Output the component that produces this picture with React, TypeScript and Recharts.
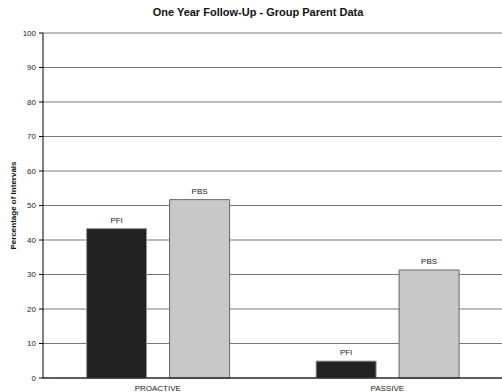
import { Bar, BarChart, CartesianGrid, LabelList, XAxis, YAxis } from "recharts";

const groups = ["PROACTIVE", "PASSIVE"];
const pfiValues = [43.3, 4.9];
const pbsValues = [51.7, 31.3];
const yTicks = [0, 10, 20, 30, 40, 50, 60, 70, 80, 90, 100];

const data = groups.map((group, i) => ({
  group,
  PFI: pfiValues[i],
  PBS: pbsValues[i],
}));

const font = "'Liberation Sans', Arial, sans-serif";

export default function App() {
  return (
    <div style={{ position: "absolute", left: 0, top: 0, width: 502, height: 392, background: "#fff", fontFamily: font }}>
      <div
        style={{
          position: "absolute",
          top: 6,
          left: 0,
          width: 516,
          textAlign: "center",
          fontSize: 11,
          fontWeight: "bold",
          color: "#111",
        }}
      >
        One Year Follow-Up - Group Parent Data
      </div>
      <BarChart
        width={502}
        height={392}
        data={data}
        margin={{ top: 33, right: 0, bottom: 0, left: 0 }}
        barCategoryGap="19%"
        barGap={23}
      >
        <CartesianGrid vertical={false} stroke="#777" strokeOpacity={1} />
        <XAxis
          dataKey="group"
          height={14}
          tickLine={false}
          axisLine={{ stroke: "#000" }}
          tick={{ fontSize: 8, fill: "#222", fontFamily: font }}
          tickMargin={1}
        />
        <YAxis
          width={43}
          domain={[0, 100]}
          ticks={yTicks}
          interval={0}
          tickSize={4}
          tickLine={{ stroke: "#000" }}
          axisLine={{ stroke: "#000" }}
          tick={{ fontSize: 8, fill: "#222", fontFamily: font }}
          tickMargin={3}
          label={{
            value: "Percentage of Intervals",
            angle: -90,
            position: "insideLeft",
            offset: 13,
            style: { fontSize: 8, fontWeight: "bold", fill: "#111", fontFamily: font, textAnchor: "middle" },
          }}
        />
        <Bar dataKey="PFI" fill="#222" stroke="#999" strokeWidth={1} isAnimationActive={false}>
          <LabelList dataKey="PFI" position="top" offset={6} formatter={() => "PFI"} style={{ fontSize: 8, fill: "#222", fontFamily: font }} />
        </Bar>
        <Bar dataKey="PBS" fill="#c8c8c8" stroke="#666" strokeWidth={1} isAnimationActive={false}>
          <LabelList dataKey="PBS" position="top" offset={6} formatter={() => "PBS"} style={{ fontSize: 8, fill: "#222", fontFamily: font }} />
        </Bar>
      </BarChart>
    </div>
  );
}
